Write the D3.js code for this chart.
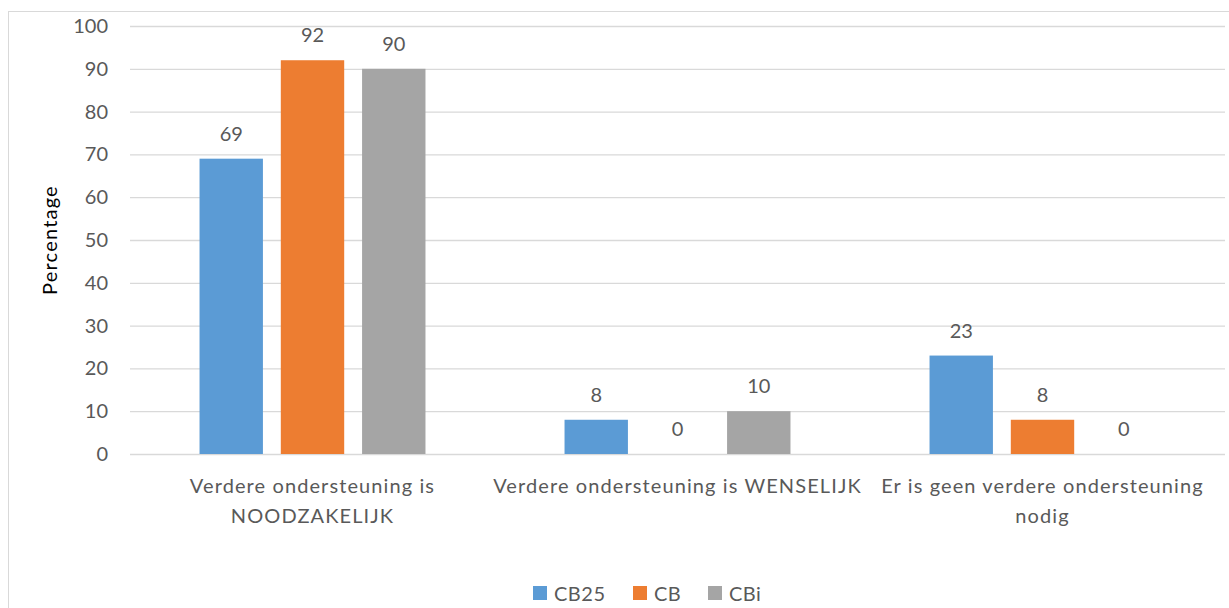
<!DOCTYPE html>
<html><head><meta charset="utf-8">
<script src="https://cdn.jsdelivr.net/npm/d3@7"></script>
<style>
html,body{margin:0;padding:0;background:#fff;}
svg{display:block;}
text{font-family:Lato, "Open Sans", sans-serif;fill:#595959;}
</style></head>
<body>
<svg id="chart" width="1229" height="608"></svg>
<script>
const categories = [
  "Verdere ondersteuning is NOODZAKELIJK",
  "Verdere ondersteuning is WENSELIJK",
  "Er is geen verdere ondersteuning nodig"
];
const categoryLines = [
  ["Verdere ondersteuning is", "NOODZAKELIJK"],
  ["Verdere ondersteuning is WENSELIJK"],
  ["Er is geen verdere ondersteuning", "nodig"]
];
const seriesNames = ["CB25", "CB", "CBi"];
const cb25 = [69, 8, 23];
const cb = [92, 0, 8];
const cbi = [90, 10, 0];
const yTicks = [0, 10, 20, 30, 40, 50, 60, 70, 80, 90, 100];
const colors = ["#5B9BD5", "#ED7D31", "#A5A5A5"];

const seriesValues = [cb25, cb, cbi];
const svg = d3.select("#chart");

// outer chart border
svg.append("rect").attr("x", 8.5).attr("y", 11.5).attr("width", 1240).attr("height", 620)
  .attr("fill", "none").attr("stroke", "#D9D9D9").attr("stroke-width", 1);

const plotLeft = 130, plotRight = 1225, plotTop = 26, plotBottom = 454;

const y = d3.scaleLinear().domain([0, 100]).range([plotBottom, plotTop]);
const x0 = d3.scaleBand().domain(categories).range([plotLeft, plotRight]).paddingInner(0.381).paddingOuter(0.1905);
const x1 = d3.scaleBand().domain(seriesNames).range([0, x0.bandwidth()]).paddingInner(0.22).paddingOuter(0);

// gridlines
const grid = svg.append("g")
  .attr("transform", `translate(${plotLeft},0)`)
  .call(d3.axisLeft(y).tickValues(yTicks).tickSize(-(plotRight - plotLeft)).tickFormat(""));
grid.select(".domain").remove();
grid.selectAll(".tick line").attr("stroke", "#D9D9D9").attr("stroke-width", 1.3);

// y tick labels
const yAxis = svg.append("g")
  .attr("transform", `translate(${plotLeft - 22},0)`)
  .call(d3.axisLeft(y).tickValues(yTicks).tickSize(0).tickPadding(0));
yAxis.select(".domain").remove();
yAxis.selectAll("text").attr("font-size", 20).attr("fill", "#595959")
  .style("font-family", "Lato, 'Open Sans', sans-serif");

// y title
svg.append("text").attr("transform", `translate(57,240) rotate(-90)`)
  .attr("text-anchor", "middle").attr("font-size", 20).attr("letter-spacing", 1.2)
  .style("fill", "#000").text("Percentage");

// bars
const groups = svg.append("g").selectAll("g").data(categories).join("g")
  .attr("transform", d => `translate(${x0(d)},0)`);
groups.each(function(cat, ci) {
  const g = d3.select(this);
  seriesNames.forEach((s, si) => {
    const v = seriesValues[si][ci];
    g.append("rect")
      .attr("x", x1(s)).attr("width", x1.bandwidth())
      .attr("y", y(v)).attr("height", y(0) - y(v))
      .attr("fill", colors[si]);
    g.append("text")
      .attr("x", x1(s) + x1.bandwidth() / 2).attr("y", y(v) - 18)
      .attr("text-anchor", "middle").attr("font-size", 20)
      .text(v);
  });
});

// category labels
const xAxis = svg.append("g");
categories.forEach((cat, ci) => {
  const cx = x0(cat) + x0.bandwidth() / 2;
  const t = xAxis.append("text").attr("text-anchor", "middle").attr("font-size", 20)
    .attr("letter-spacing", 1.1);
  categoryLines[ci].forEach((line, li) => {
    t.append("tspan").attr("x", cx).attr("y", 493 + li * 30).text(line);
  });
});

// legend
const legendX = [533, 633, 708];
const legend = svg.append("g");
seriesNames.forEach((s, si) => {
  legend.append("rect").attr("x", legendX[si]).attr("y", 586).attr("width", 14).attr("height", 14)
    .attr("fill", colors[si]);
  legend.append("text").attr("x", legendX[si] + 21).attr("y", 601)
    .attr("font-size", 20).attr("letter-spacing", 0.5).text(s);
});
</script>
</body></html>
